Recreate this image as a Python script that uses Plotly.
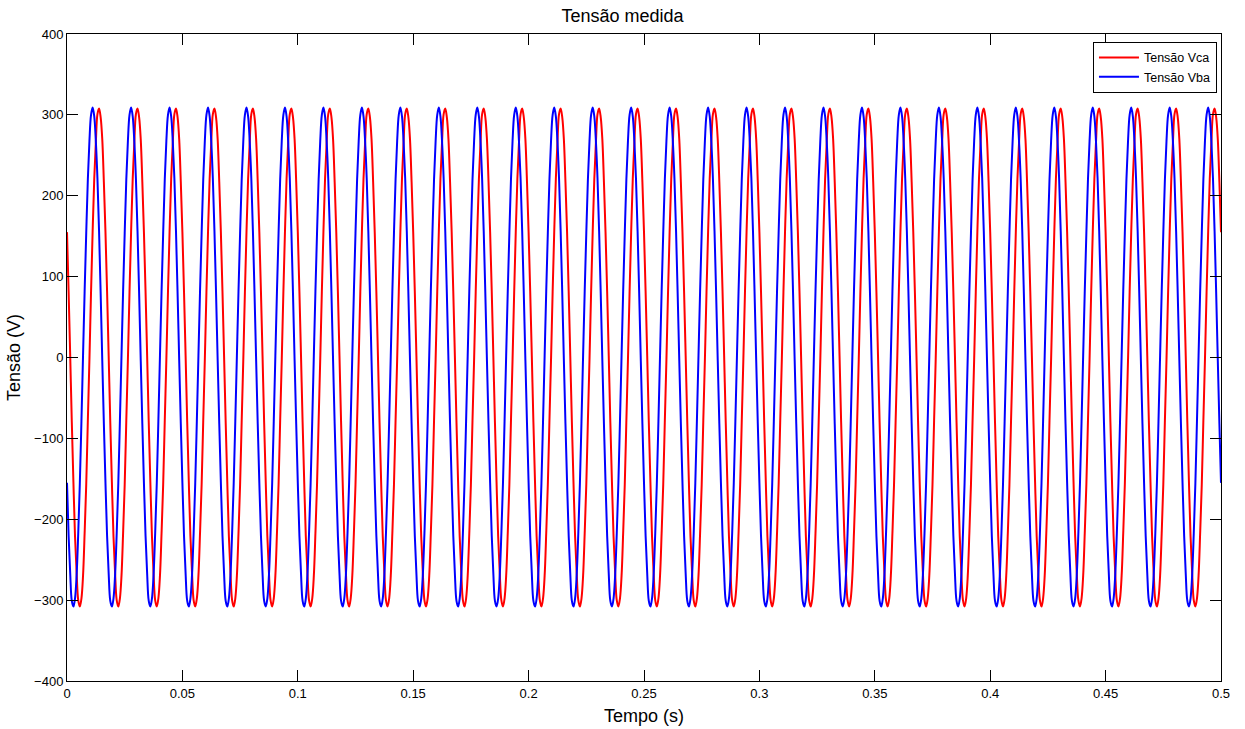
import plotly.graph_objects as go

freq_hz = 60.0
n_cycles = 30
samples_per_cycle = 24

vca_cycle = [155, 82, 2, -80, -154, -221, -266, -300, -308, -298, -270, -217,
             -157, -78, -2, 81, 156, 221, 266, 301, 308, 297, 270, 217]
vba_cycle = [-155, -220, -267, -301, -308, -298, -269, -218, -156, -79, 2, 82,
             154, 220, 268, 300, 309, 298, 267, 221, 156, 79, -3, -82]

title_text = "Tensão medida"
x_title = "Tempo (s)"
y_title = "Tensão (V)"
series_names = ["Tensão Vca", "Tensão Vba"]
x_ticks = [0, 0.05, 0.1, 0.15, 0.2, 0.25, 0.3, 0.35, 0.4, 0.45, 0.5]
x_tick_text = ["0", "0.05", "0.1", "0.15", "0.2", "0.25", "0.3", "0.35", "0.4", "0.45", "0.5"]
y_ticks = [-400, -300, -200, -100, 0, 100, 200, 300, 400]

# Sample instants and the recorded signal built from the read cycles
dt = 1.0 / (freq_hz * samples_per_cycle)
n_samples = n_cycles * samples_per_cycle + 1
t = [i * dt for i in range(n_samples)]
vca = [vca_cycle[i % samples_per_cycle] for i in range(n_samples)]
vba = [vba_cycle[i % samples_per_cycle] for i in range(n_samples)]

fig = go.Figure()
fig.add_trace(go.Scatter(x=t, y=vca, mode="lines", name=series_names[0],
                         line=dict(color="#ff0000", width=2, shape="spline", smoothing=1)))
fig.add_trace(go.Scatter(x=t, y=vba, mode="lines", name=series_names[1],
                         line=dict(color="#0000ff", width=2, shape="spline", smoothing=1)))

font_family = "Liberation Sans, Arial, sans-serif"
fig.update_layout(
    width=1245, height=729,
    paper_bgcolor="white", plot_bgcolor="white",
    margin=dict(l=67, r=24, t=34, b=48, autoexpand=False),
    font=dict(family=font_family, color="black", size=12),
    title=dict(text=title_text, x=0.5, xanchor="center", y=0.978, yanchor="middle",
               font=dict(size=18, family=font_family, color="black")),
    showlegend=True,
    legend=dict(x=0.9965, y=0.988, xanchor="right", yanchor="top",
                bgcolor="white", bordercolor="black", borderwidth=1,
                font=dict(size=12.5, family=font_family, color="black"),
                itemwidth=40, tracegroupgap=0),
    xaxis=dict(range=[0, 0.5], tickvals=x_ticks, ticktext=x_tick_text, automargin=False,
               showgrid=False, zeroline=False, showline=True, linecolor="black", linewidth=1,
               mirror="ticks", ticks="inside", ticklen=11, tickcolor="black", tickwidth=1,
               tickfont=dict(size=13, color="black"),
               title=dict(text=x_title, font=dict(size=18, color="black"), standoff=9)),
    yaxis=dict(range=[-400, 400], tickvals=y_ticks, automargin=False,
               showgrid=False, zeroline=False, showline=True, linecolor="black", linewidth=1,
               mirror="ticks", ticks="inside", ticklen=11, tickcolor="black", tickwidth=1,
               tickfont=dict(size=13, color="black"),
               title=dict(text=y_title, font=dict(size=18, color="black"), standoff=8)),
)

fig.write_html("out.html")
